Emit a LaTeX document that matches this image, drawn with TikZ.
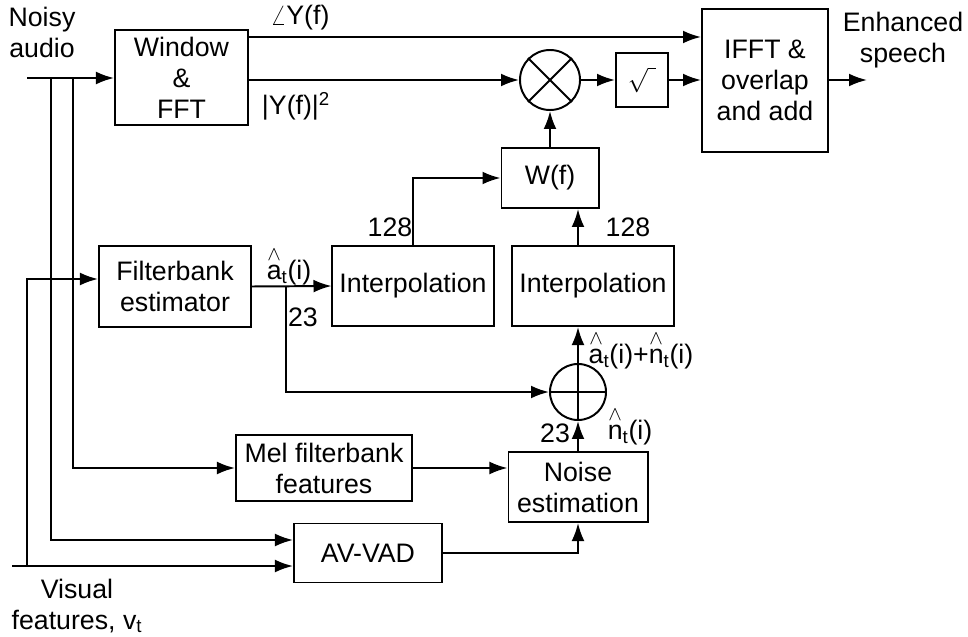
\documentclass[tikz,border=0pt]{standalone}
\usepackage{amsmath}
\usepackage{fontspec}
\setmainfont{Liberation Sans}
\usetikzlibrary{arrows.meta,positioning}

\newcommand{\est}[1]{\ensuremath{\overset{\wedge}{\text{#1}}_{\text{t}}}(i)}

\begin{document}
\begin{tikzpicture}[
    x=0.025cm, y=-0.025cm,
    font=\fontsize{19}{22}\selectfont,
    line width=1.4pt,
    block/.style={draw, align=center, inner sep=2pt},
    junction/.style={draw, circle, minimum size=1.5cm, inner sep=0pt},
    arrow/.style={-{Latex[length=0.45cm,width=0.32cm]}},
    lbl/.style={inner sep=1pt, align=center}
]
\useasboundingbox (0,0) rectangle (968,637);

% blocks
\node[block, minimum width=3.325cm, minimum height=2.375cm] (fft) at (181.5,77.5) {Window\\\&\\FFT};
\node[block, minimum width=3.15cm, minimum height=3.575cm] (ifft) at (765,80.5) {IFFT \&\\overlap\\and add};
\node[junction] (mul) at (550,80) {};
\node[block, minimum width=1.3cm, minimum height=1.35cm] (root) at (642,80) {$\sqrt{\hphantom{i}}$};
\node[block, minimum width=2.425cm, minimum height=1.5cm] (wf) at (550,178) {W(f)};
\node[block, minimum width=4.025cm, minimum height=2cm] (interpa) at (413,286) {Interpolation};
\node[block, minimum width=4.025cm, minimum height=2cm] (interpb) at (593,286) {Interpolation};
\node[block, minimum width=3.8cm, minimum height=2.025cm] (fbank) at (175,286.5) {Filterbank\\estimator};
\node[junction, minimum size=1.4cm] (add) at (578,392) {};
\node[block, minimum width=4.4cm, minimum height=1.65cm] (mel) at (324,468) {Mel filterbank\\features};
\node[block, minimum width=3.475cm, minimum height=1.75cm] (noise) at (578,487) {Noise\\estimation};
\node[block, minimum width=3.7cm, minimum height=1.475cm] (vad) at (368,553) {AV-VAD};

% signs in the junctions
\draw (mul.45) -- (mul.225);
\draw (mul.135) -- (mul.315);
\draw (add.north) -- (add.south);
\draw (add.west) -- (add.east);

% labels
\node[lbl] (noisy) at (42,32) {Noisy\\audio};
\node[lbl] (visual) at (77,606) {Visual\\features, v\textsubscript{t}};
\node[lbl] (enh) at (903,40) {Enhanced\\speech};
\node[lbl] (phase) at (300,18) {$\angle$Y(f)};
\node[lbl] (mag) at (296,106) {|Y(f)|\textsuperscript{2}};
\node[lbl] (na) at (390,227) {128};
\node[lbl] (nb) at (628,227) {128};
\node[lbl] (ahat) at (289,266) {\est{a}};
\node[lbl] (nc) at (303,317) {23};
\node[lbl] (sum) at (641,350) {\est{a}+\est{n}};
\node[lbl] (nd) at (555,433) {23};
\node[lbl] (nhat) at (630,426) {\est{n}};

% inputs
\coordinate (audioin) at (27,78);
\coordinate (tapa) at (51,78);
\coordinate (tapb) at (73,78);
\coordinate (visin) at (12,566);
\coordinate (tapv) at (27,566);
\coordinate (out) at (867,80);
\coordinate (br) at (286,286.5);

\draw[arrow] (audioin) -- (audioin -| fft.west);
\draw[arrow] (tapb) |- (mel.west);
\draw[arrow] (tapa) |- ([yshift=0.325cm]vad.west);
\draw[arrow] (visin) -- ([yshift=-0.325cm]vad.west);
\draw[arrow] (tapv) |- ([yshift=0.1875cm]fbank.west);

% signal path
\draw[arrow] ([yshift=1.0125cm]fft.east) coordinate (ph) -- (ph -| ifft.west);
\draw[arrow] (fft.east |- mul.west) -- (mul.west);
\draw[arrow] (mul) -- (root);
\draw[arrow] (root) -- (root -| ifft.west);
\draw[arrow] (ifft.east |- out) -- (out);
\draw[arrow] (wf) -- (mul);
\draw[arrow] (interpa.north) |- (wf.west);
\draw[arrow] (interpb.north -| add) -- (wf.south -| add);
\draw[arrow] (fbank.east) -- (interpa.west);
\draw[arrow] (br) |- (add);
\draw[arrow] (add) -- (add |- interpb.south);
\draw[arrow] (noise) -- (add);
\draw[arrow] (mel) -- (mel -| noise.west);
\draw[arrow] (vad) -| (noise);
\end{tikzpicture}
\end{document}
